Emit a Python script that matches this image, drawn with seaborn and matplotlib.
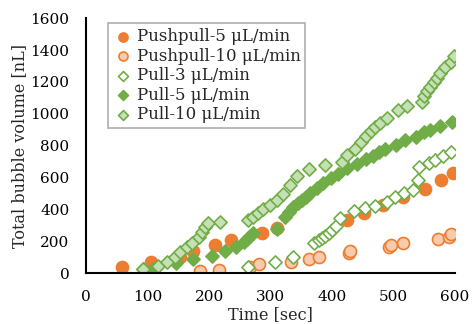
"""
Gráfico de volumen total de burbujas vs tiempo.
"""

import matplotlib
from matplotlib import pyplot as plt
import seaborn as sns
import pandas as pd

matplotlib.use('Agg')

sns.set_style("white")
plt.rcParams['font.family'] = ['DejaVu Serif']
plt.rcParams['mathtext.fontset'] = 'dejavuserif'

# Datos
pp5_t = [58, 105, 153, 174, 210, 236, 286, 311, 425, 452, 483, 515, 551, 578, 597]
pp5_v = [36, 70, 102, 140, 177, 211, 253, 285, 336, 380, 427, 479, 531, 582, 630]

pp10_t = [186, 216, 266, 281, 333, 363, 379, 427, 429, 493, 496, 515, 573, 591, 593]
pp10_v = [15, 22, 38, 55, 70, 88, 104, 125, 142, 163, 178, 190, 212, 228, 245]

p3_t = [263, 308, 336, 370, 378, 383, 389, 395, 400, 406, 413, 435, 454, 470,
        489, 502, 517, 531, 540, 541, 557, 568, 581, 594]
p3_v = [38, 68, 100, 190, 205, 218, 230, 250, 268, 295, 343, 390, 406, 421,
        448, 476, 500, 523, 583, 665, 690, 712, 735, 760]

p5_t = [93, 109, 147, 174, 204, 226, 243, 256, 262, 267, 272, 310, 324, 330,
        337, 344, 351, 358, 364, 375, 386, 398, 410, 424, 441, 455, 466, 476,
        486, 504, 519, 537, 550, 560, 575, 595]
p5_v = [23, 23, 61, 86, 110, 142, 167, 196, 215, 232, 249, 280, 353, 385,
        415, 440, 460, 480, 505, 535, 567, 595, 625, 657, 684, 715, 735, 760,
        780, 807, 834, 855, 886, 900, 922, 950]

p10_t = [92, 117, 131, 145, 153, 164, 172, 183, 188, 194, 199, 218, 264, 272,
         280, 288, 299, 310, 320, 332, 343, 362, 389, 416, 424, 437, 447, 456,
         463, 470, 478, 489, 508, 522, 546, 550, 555, 560, 566, 570, 576, 584,
         593, 599]
p10_v = [23, 45, 71, 102, 134, 165, 190, 228, 259, 290, 312, 322, 333, 353,
         375, 400, 427, 460, 495, 552, 609, 652, 678, 698, 740, 782, 820, 860,
         890, 920, 945, 975, 1022, 1050, 1075, 1110, 1140, 1170, 1200, 1225,
         1255, 1294, 1326, 1360]

labels = ['Pushpull-5 μL/min', 'Pushpull-10 μL/min', 'Pull-3 μL/min',
          'Pull-5 μL/min', 'Pull-10 μL/min']

naranja = '#ED7D31'
verde = '#70AD47'

series = [
    (pp5_t, pp5_v, dict(marker='o', s=75, color=naranja, edgecolor=naranja)),
    (pp10_t, pp10_v, dict(marker='o', s=75, color='#F8CBAD', edgecolor=naranja)),
    (p3_t, p3_v, dict(marker='D', s=45, color='white', edgecolor=verde)),
    (p5_t, p5_v, dict(marker='D', s=45, color=verde, edgecolor=verde)),
    (p10_t, p10_v, dict(marker='D', s=45, color='#C5E0B4', edgecolor=verde)),
]

fig = plt.figure(figsize=(4.73, 3.24), dpi=100)
ax = fig.add_axes([0.182, 0.157, 0.78, 0.787])

for (t, v, style), label in zip(series, labels):
    df = pd.DataFrame({'t': t, 'v': v})
    sns.scatterplot(x='t', y='v', data=df, ax=ax, label=label,
                    linewidth=1.2, **style)

ax.set_xlim(0, 600)
ax.set_ylim(0, 1600)
ax.set_xticks(range(0, 601, 100))
ax.set_yticks(range(0, 1601, 200))
ax.set_xlabel('Time [sec]', fontsize=11.5, labelpad=2)
ax.set_ylabel('Total bubble volume [nL]', fontsize=11.5, labelpad=2)
ax.tick_params(direction='inout', length=8, width=1.3, labelsize=11,
               colors='black', pad=8)
for side in ['top', 'right']:
    ax.spines[side].set_visible(False)
for side in ['left', 'bottom']:
    ax.spines[side].set_color('black')
    ax.spines[side].set_linewidth(1.5)

leg = ax.legend(loc='upper left', bbox_to_anchor=(0.06, 0.98), borderaxespad=0,
                fontsize=12, frameon=True, fancybox=False, edgecolor='#999999',
                handletextpad=0.2, borderpad=0.3, labelspacing=0.15,
                handlelength=1.2, markerscale=0.75)
leg.get_frame().set_linewidth(1.2)

plt.savefig('out.png', dpi=100)
plt.close(fig)
